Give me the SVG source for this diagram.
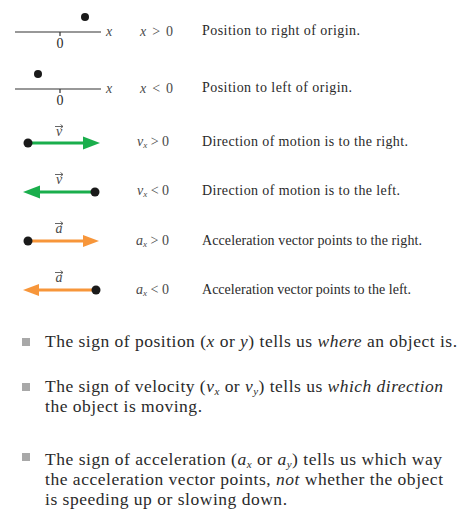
<svg xmlns="http://www.w3.org/2000/svg" width="459" height="513" viewBox="0 0 459 513">
<style>
text{font-family:"Liberation Serif","Times New Roman",serif;fill:#2a2a2a}
.sm{font-size:14px}
.eq{font-size:14px;fill:#4a4a4a}
.big{font-size:17.5px}
.axis{stroke:#333;stroke-width:1.2;fill:none}
.dot{fill:#1a1a1a}
.g{stroke:#1aae4c;stroke-width:3;fill:none}
.gh{fill:#1aae4c}
.o{stroke:#f7963a;stroke-width:3;fill:none}
.oh{fill:#f7963a}
.bul{fill:#a8a8a8}
.va{stroke:#555;stroke-width:0.9;fill:none}
</style>
<g id="row1">
<line class="axis" x1="15" y1="32" x2="101" y2="32"/>
<line class="axis" x1="60" y1="32" x2="60" y2="36"/>
<text class="sm" x="60" y="48" text-anchor="middle">0</text>
<circle class="dot" cx="85" cy="17" r="4"/>
<text class="eq" x="106" y="36" font-style="italic">x</text>
<text class="eq" x="140" y="36" textLength="33"><tspan font-style="italic">x</tspan> &gt; 0</text>
<text class="sm" x="202" y="35" textLength="158">Position to right of origin.</text>
</g>
<g id="row2">
<line class="axis" x1="15" y1="89" x2="101" y2="89"/>
<line class="axis" x1="60" y1="89" x2="60" y2="93"/>
<text class="sm" x="60" y="105" text-anchor="middle">0</text>
<circle class="dot" cx="38" cy="74" r="4"/>
<text class="eq" x="106" y="93" font-style="italic">x</text>
<text class="eq" x="140" y="93" textLength="33"><tspan font-style="italic">x</tspan> &lt; 0</text>
<text class="sm" x="202" y="92" textLength="150">Position to left of origin.</text>
</g>
<g id="row3">
<line class="g" x1="28" y1="143" x2="85" y2="143"/>
<polygon class="gh" points="83,136.5 100,143 83,149.5"/>
<circle class="dot" cx="28" cy="143" r="4.5"/>
<text class="eq" x="59" y="136" text-anchor="middle" font-style="italic">v</text>
<path class="va" d="M55,126.5 h8 M60.5,124.5 l2.5,2 l-2.5,2"/>
<text class="eq" x="137" y="146"><tspan font-style="italic">v</tspan><tspan font-size="9" font-style="italic" dy="2">x</tspan><tspan dy="-2"> &gt; 0</tspan></text>
<text class="sm" x="202" y="146" textLength="206">Direction of motion is to the right.</text>
</g>
<g id="row4">
<line class="g" x1="38" y1="192" x2="95" y2="192"/>
<polygon class="gh" points="40,185.5 23,192 40,198.5"/>
<circle class="dot" cx="95" cy="192" r="4.5"/>
<text class="eq" x="59" y="184" text-anchor="middle" font-style="italic">v</text>
<path class="va" d="M55,174.5 h8 M60.5,172.5 l2.5,2 l-2.5,2"/>
<text class="eq" x="137" y="195"><tspan font-style="italic">v</tspan><tspan font-size="9" font-style="italic" dy="2">x</tspan><tspan dy="-2"> &lt; 0</tspan></text>
<text class="sm" x="202" y="195" textLength="198">Direction of motion is to the left.</text>
</g>
<g id="row5">
<line class="o" x1="28" y1="241" x2="85" y2="241"/>
<polygon class="oh" points="83,235 99,241 83,247"/>
<circle class="dot" cx="28" cy="241" r="4.5"/>
<text class="eq" x="59" y="233" text-anchor="middle" font-style="italic">a</text>
<path class="va" d="M55,223.5 h8 M60.5,221.5 l2.5,2 l-2.5,2"/>
<text class="eq" x="136" y="245"><tspan font-style="italic">a</tspan><tspan font-size="9" font-style="italic" dy="2">x</tspan><tspan dy="-2"> &gt; 0</tspan></text>
<text class="sm" x="202" y="245" textLength="220">Acceleration vector points to the right.</text>
</g>
<g id="row6">
<line class="o" x1="38" y1="290" x2="96" y2="290"/>
<polygon class="oh" points="39,284 23,290 39,296"/>
<circle class="dot" cx="96" cy="290" r="4.5"/>
<text class="eq" x="59" y="282" text-anchor="middle" font-style="italic">a</text>
<path class="va" d="M55,272.5 h8 M60.5,270.5 l2.5,2 l-2.5,2"/>
<text class="eq" x="136" y="294"><tspan font-style="italic">a</tspan><tspan font-size="9" font-style="italic" dy="2">x</tspan><tspan dy="-2"> &lt; 0</tspan></text>
<text class="sm" x="202" y="294" textLength="209">Acceleration vector points to the left.</text>
</g>
<g id="bullet1">
<rect class="bul" x="22" y="338" width="8" height="8"/>
<text class="big" x="45" y="347" textLength="412">The sign of position (<tspan font-style="italic">x</tspan> or <tspan font-style="italic">y</tspan>) tells us <tspan font-style="italic">where</tspan> an object is.</text>
</g>
<g id="bullet2">
<rect class="bul" x="22" y="383" width="8" height="8"/>
<text class="big" x="45" y="392" textLength="398">The sign of velocity (<tspan font-style="italic">v</tspan><tspan font-size="11" font-style="italic" dy="3">x</tspan><tspan dy="-3"> or </tspan><tspan font-style="italic">v</tspan><tspan font-size="11" font-style="italic" dy="3">y</tspan><tspan dy="-3">) tells us </tspan><tspan font-style="italic">which direction</tspan></text>
<text class="big" x="45" y="412" textLength="157">the object is moving.</text>
</g>
<g id="bullet3">
<rect class="bul" x="22" y="453" width="8" height="8"/>
<text class="big" x="45" y="465" textLength="397">The sign of acceleration (<tspan font-style="italic">a</tspan><tspan font-size="11" font-style="italic" dy="3">x</tspan><tspan dy="-3"> or </tspan><tspan font-style="italic">a</tspan><tspan font-size="11" font-style="italic" dy="3">y</tspan><tspan dy="-3">) tells us which way</tspan></text>
<text class="big" x="45" y="485" textLength="398">the acceleration vector points, <tspan font-style="italic">not</tspan> whether the object</text>
<text class="big" x="45" y="505" textLength="242">is speeding up or slowing down.</text>
</g>
</svg>
